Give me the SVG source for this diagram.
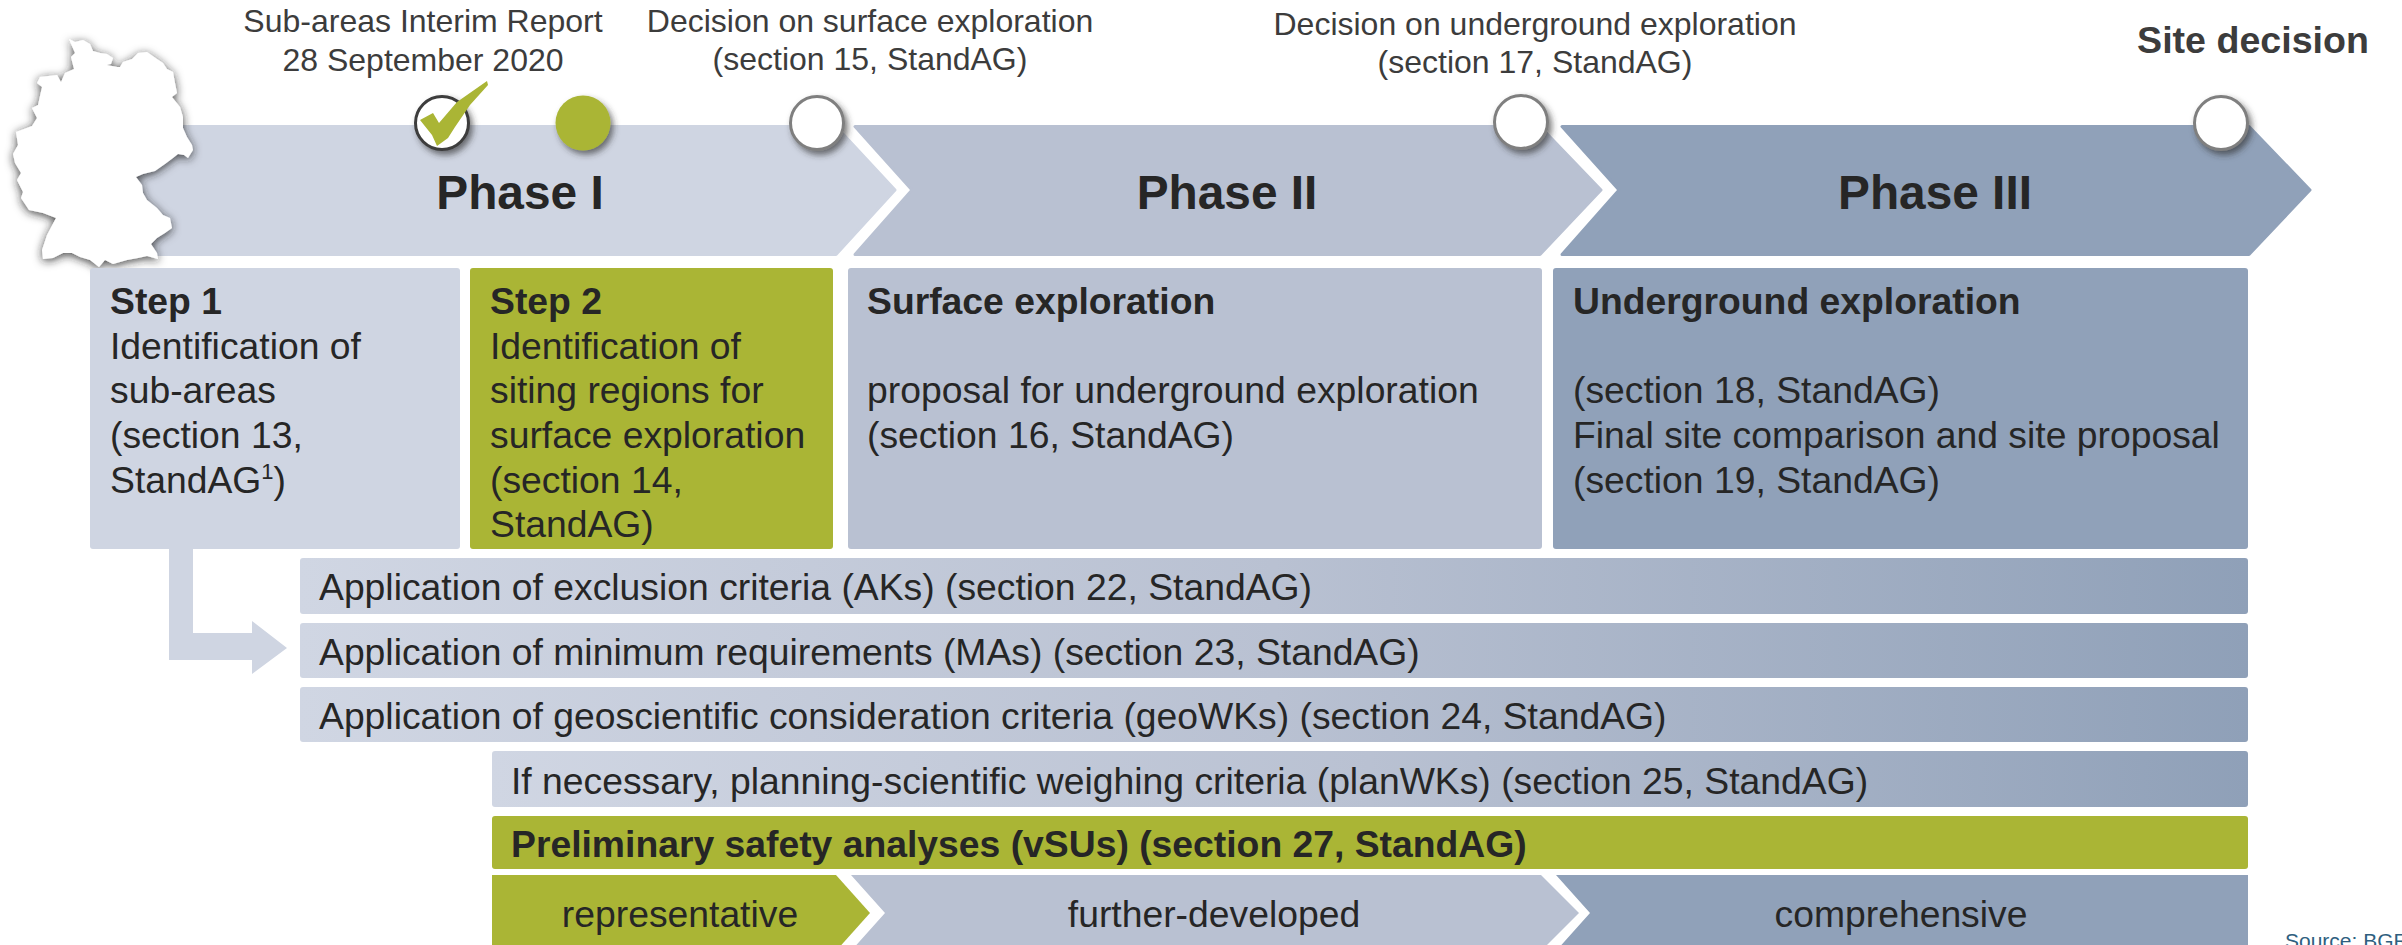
<svg xmlns="http://www.w3.org/2000/svg" width="2402" height="945" viewBox="0 0 2402 945">
<style>
text{font-family:"Liberation Sans",Arial,sans-serif;font-size:37.3px;fill:#262626}
.top{font-size:32px;fill:#3c3c3c}
.mid{text-anchor:middle}
.b{font-weight:bold}
.ph{font-size:47.8px;font-weight:bold;text-anchor:middle}
.p1{fill:#cfd5e2}.p2{fill:#b9c1d2}.p3{fill:#90a1b9}.g{fill:#aab535}
.ch{stroke-width:3;stroke-linejoin:round}
.ch.p1{stroke:#cfd5e2}.ch.p2{stroke:#b9c1d2}.ch.p3{stroke:#90a1b9}.ch.g{stroke:#aab535}
.ms{fill:#fff;stroke:#7f7f7f;stroke-width:3;filter:url(#sh)}
</style>
<defs>
<filter id="sh" x="-30%" y="-30%" width="170%" height="170%"><feDropShadow dx="3" dy="4" stdDeviation="3" flood-color="#333" flood-opacity=".65"/></filter>
<filter id="gs" x="-15%" y="-15%" width="130%" height="130%"><feDropShadow dx="0" dy="2" stdDeviation="5" flood-color="#222" flood-opacity=".85"/></filter>
<linearGradient id="fade"><stop offset="0" stop-color="#d0d6e3"/><stop offset=".5" stop-color="#b9c1d2"/><stop offset="1" stop-color="#8fa0b8"/></linearGradient>
</defs>

<g id="phase-1"><polygon class="ch p1" points="130,126.5 836,126.5 895,190 836,254.5 130,254.5"/><text class="ph" x="520" y="209">Phase I</text></g>
<g id="phase-2"><polygon class="ch p2" points="855,126.5 1540,126.5 1601,190 1540,254.5 855,254.5 912,190"/><text class="ph" x="1227" y="209">Phase II</text></g>
<g id="phase-3"><polygon class="ch p3" points="1562,126.5 2249,126.5 2310,190 2249,254.5 1562,254.5 1619,190"/><text class="ph" x="1935" y="209">Phase III</text></g>

<g id="germany"><polygon filter="url(#gs)" fill="#fff" points="69,39 75,42 83,40 90,44 93,51 100,53 107,54 113,58 111,64 107,65 112,66 117,67 120,67 123,62 132,59 138,53 147,52 157,59 163,63 167,69 173,72 175,83 177,93 172,97 180,107 183,117 183,128 187,137 192,145 193,150 188,158 184,155 178,154 173,158 165,164 155,171 143,174 136,177 142,185 143,193 147,200 157,208 163,215 170,218 172,228 165,233 157,238 151,244 157,253 158,259 147,256 138,258 127,260 113,264 105,260 99,267 90,260 80,257 72,253 63,253 53,258 43,259 42,250 47,235 56,218 43,213 29,210 21,198 23,192 17,180 21,173 15,163 13,154 18,145 16,132 32,126 37,118 32,108 38,105 42,87 37,83 40,77 57,75 61,82 65,73 74,69 71,57 75,53"/></g>

<g id="step-1"><rect class="p1" x="90" y="268" width="370" height="281" rx="3"/><text x="110" y="314" class="b">Step 1</text><text x="110" y="358.5">Identification of</text><text x="110" y="403">sub-areas</text><text x="110" y="447.5">(section 13,</text><text x="110" y="492.5">StandAG<tspan font-size="22" dy="-14">1</tspan><tspan dy="14">)</tspan></text></g>
<g id="step-2"><rect class="g" x="470" y="268" width="363" height="281" rx="3"/><text x="490" y="314" class="b">Step 2</text><text x="490" y="358.5">Identification of</text><text x="490" y="403">siting regions for</text><text x="490" y="447.5">surface exploration</text><text x="490" y="492.5">(section 14,</text><text x="490" y="537">StandAG)</text></g>
<g id="surface"><rect class="p2" x="848" y="268" width="694" height="281" rx="3"/><text x="867" y="314" class="b">Surface exploration</text><text x="867" y="403">proposal for underground exploration</text><text x="867" y="447.5">(section 16, StandAG)</text></g>
<g id="underground"><rect class="p3" x="1553" y="268" width="695" height="281" rx="3"/><text x="1573" y="314" class="b">Underground exploration</text><text x="1573" y="403">(section 18, StandAG)</text><text x="1573" y="447.5">Final site comparison and site proposal</text><text x="1573" y="492.5">(section 19, StandAG)</text></g>

<g id="connectors"><polygon class="p1" points="169,549 193,549 193,633 252,633 252,621 287,648 252,674 252,660 169,660"/></g>

<g id="row-ak"><rect fill="url(#fade)" x="300" y="558" width="1948" height="56" rx="3"/><text x="319" y="600">Application of exclusion criteria (AKs) (section 22, StandAG)</text></g>
<g id="row-ma"><rect fill="url(#fade)" x="300" y="623" width="1948" height="55" rx="3"/><text x="319" y="665">Application of minimum requirements (MAs) (section 23, StandAG)</text></g>
<g id="row-geo"><rect fill="url(#fade)" x="300" y="687" width="1948" height="55" rx="3"/><text x="319" y="729">Application of geoscientific consideration criteria (geoWKs) (section 24, StandAG)</text></g>
<g id="row-plan"><rect fill="url(#fade)" x="492" y="751" width="1756" height="56" rx="3"/><text x="511" y="794">If necessary, planning-scientific weighing criteria (planWKs) (section 25, StandAG)</text></g>
<g id="row-vsu"><rect class="g" x="492" y="816" width="1756" height="53" rx="3"/><text x="511" y="857" class="b">Preliminary safety analyses (vSUs) (section 27, StandAG)</text></g>

<g id="rep"><polygon class="g" points="492,875 836,875 870,913 836,951 492,951"/><text class="mid" x="680" y="927">representative</text></g>
<g id="further"><polygon class="p2" points="851,875 1541,875 1579,913 1541,951 851,951 885,913"/><text class="mid" x="1214" y="927">further-developed</text></g>
<g id="comprehensive"><polygon class="p3" points="1556,875 2248,875 2248,951 1556,951 1590,913"/><text class="mid" x="1901" y="927">comprehensive</text></g>

<g id="m-interim"><circle cx="442" cy="123" r="26.5" fill="#fff" stroke="#3c3c3c" stroke-width="3" filter="url(#sh)"/><polygon class="g" points="487,81 488,85 470,105 455,127 448,138 437,146 432,135 420,120 433,113 439,123 457,102"/><text class="top mid" x="423" y="32">Sub-areas Interim Report</text><text class="top mid" x="423" y="71">28 September 2020</text></g>
<g id="m-green"><circle class="g" cx="583" cy="123" r="27.5" filter="url(#sh)"/></g>
<g id="m-surface"><circle class="ms" cx="817" cy="123" r="26.5"/><text class="top mid" x="870" y="32">Decision on surface exploration</text><text class="top mid" x="870" y="70">(section 15, StandAG)</text></g>
<g id="m-under"><circle class="ms" cx="1521" cy="122" r="26.5"/><text class="top mid" x="1535" y="35">Decision on underground exploration</text><text class="top mid" x="1535" y="73">(section 17, StandAG)</text></g>
<g id="m-site"><circle class="ms" cx="2221" cy="123" r="26.5"/><text x="2253" y="53" class="b mid" style="fill:#3c3c3c;font-size:37.6px">Site decision</text></g>

<text x="2285" y="948" style="font-size:21px;fill:#2f5f7f">Source: BGR</text>
</svg>
